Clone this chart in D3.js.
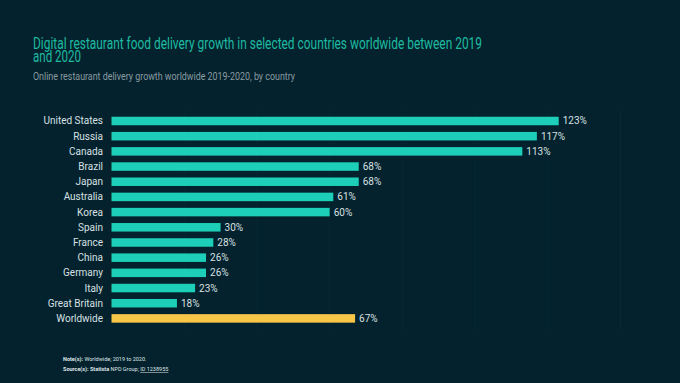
<!DOCTYPE html>
<html><head><meta charset="utf-8">
<script src="https://cdn.jsdelivr.net/npm/d3@7"></script>
<style>
html,body{margin:0;padding:0;background:#03222d;}
svg{display:block;}
</style></head>
<body>
<script>
const categories = ["United States","Russia","Canada","Brazil","Japan","Australia","Korea","Spain","France","China","Germany","Italy","Great Britain","Worldwide"];
const values = [123,117,113,68,68,61,60,30,28,26,26,23,18,67];
const ticks = [0,20,40,60,80,100,120,140];
const titleLines = ["Digital restaurant food delivery growth in selected countries worldwide between 2019","and 2020"];
const subtitle = "Online restaurant delivery growth worldwide 2019-2020, by country";

const W=680,H=383;
const svg=d3.select("body").append("svg").attr("width",W).attr("height",H);
svg.append("rect").attr("width",W).attr("height",H).attr("fill","#03222d");
const font="Roboto, 'Open Sans', sans-serif";

const x=d3.scaleLinear().domain([0,140]).range([111.5,620.5]);
const y=d3.scaleBand().domain(categories).range([113.4,326]).paddingInner(0.44).paddingOuter(0.22);

// faint gridlines
svg.append("g").selectAll("line").data(ticks.slice(1)).join("line")
 .attr("x1",d=>x(d)).attr("x2",d=>x(d)).attr("y1",110).attr("y2",330)
 .attr("stroke","#072833").attr("stroke-width",1);

// title
const tt=svg.append("g").attr("font-family",font).attr("font-size",16).attr("fill","#1fbba1");
tt.append("text").attr("x",33).attr("y",49).attr("textLength",449).attr("lengthAdjust","spacingAndGlyphs").text(titleLines[0]);
tt.append("text").attr("x",33).attr("y",62).attr("textLength",48).attr("lengthAdjust","spacingAndGlyphs").text(titleLines[1]);
svg.append("text").attr("x",33).attr("y",80).attr("font-family",font).attr("font-size",11.5)
 .attr("textLength",262).attr("lengthAdjust","spacingAndGlyphs")
 .attr("fill","#8a9ba1").text(subtitle);

// bars
svg.append("g").selectAll("rect").data(categories).join("rect")
 .attr("x",x(0)).attr("y",d=>y(d)).attr("height",y.bandwidth())
 .attr("width",(d,i)=>x(values[i])-x(0))
 .attr("fill",d=>d==="Worldwide"?"#f7c548":"#1dcfb8");

// category labels
svg.append("g").selectAll("text").data(categories).join("text")
 .attr("x",103).attr("y",d=>y(d)+y.bandwidth()/2).attr("dy","0.35em")
 .attr("text-anchor","end").attr("font-family",font).attr("font-size",10)
 .attr("fill","#d8e0e3").text(d=>d);

// value labels
svg.append("g").selectAll("text").data(categories).join("text")
 .attr("x",(d,i)=>x(values[i])+4).attr("y",d=>y(d)+y.bandwidth()/2).attr("dy","0.35em")
 .attr("font-family",font).attr("font-size",10)
 .attr("fill","#d8e0e3").text((d,i)=>values[i]+"%");

// notes
const n=svg.append("g").attr("font-family",font).attr("font-size",5.5).attr("fill","#dfe6e8");
const t1=n.append("text").attr("x",63).attr("y",361);
t1.append("tspan").attr("font-weight","bold").text("Note(s): ");
t1.append("tspan").text("Worldwide; 2019 to 2020.");
const t2=n.append("text").attr("x",63).attr("y",371);
t2.append("tspan").attr("font-weight","bold").text("Source(s): Statista ");
t2.append("tspan").text("NPD Group; ");
t2.append("tspan").attr("text-decoration","underline").text("ID 1238955");
</script>
</body></html>
